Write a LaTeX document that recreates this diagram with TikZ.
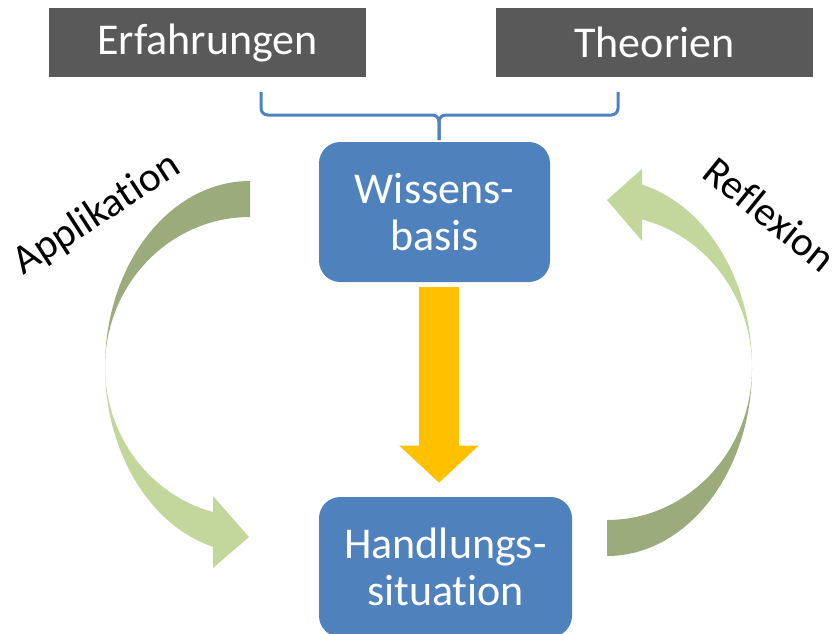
\documentclass[tikz,border=0pt]{standalone}
\usepackage{fontspec}
\setmainfont{Carlito}[Ligatures=NoCommon]
\usetikzlibrary{arrows.meta,calc}
\definecolor{kbgray}{HTML}{595959}
\definecolor{kbblue}{HTML}{4F81BD}
\definecolor{kbyellow}{HTML}{FFC000}
\definecolor{kbdark}{HTML}{9BAB7B}
\definecolor{kblight}{HTML}{C3D69B}

\begin{document}
\begin{tikzpicture}[x=0.75pt, y=-0.75pt,
    graybox/.style={fill=kbgray, text=white, inner sep=0pt,
        minimum width=237.75pt, minimum height=51.75pt},
    bluebox/.style={fill=kbblue, text=white, rounded corners=16pt,
        align=center, inner sep=0pt, minimum height=105pt},
    bigtext/.style={font=\fontsize{33pt}{35.25pt}\selectfont},
    sidetext/.style={font=\fontsize{31pt}{34pt}\selectfont, anchor=base},
    brace/.style={draw=kbblue, line width=2.25pt, rounded corners=5pt},
    flow/.style={draw=kbyellow, line width=30pt,
        -{Triangle[length=27.75pt, width=57.75pt]}}]
        \useasboundingbox (0,0) rectangle (834,633);
        \clip (0,0) rectangle (834,633);

        % ----------------------------------------------------
        % Quellen oben
        % ----------------------------------------------------
        \node[graybox, bigtext] (erfahrung) at (207.5,42.5) {Erfahrungen};
        \node[graybox, bigtext] (theorie) at (654.5,42.5) {Theorien};

        % ----------------------------------------------------
        % Wissensbasis und Handlungssituation
        % ----------------------------------------------------
        \node[bluebox, bigtext, minimum width=173.25pt] (wissen) at (434.5,212) {Wissens-\\basis};
        \node[bluebox, bigtext, minimum width=189.75pt] (handlung) at (445.5,567) {Handlungs-\\situation};

        % Klammer
        \coordinate (braceL) at (261,92);
        \coordinate (braceR) at (618,92);
        \coordinate (braceMid) at (439,115);
        \coordinate (braceTip) at (439,140);
        \draw[brace] (braceL) |- (braceMid) -- (braceTip);
        \draw[brace] (braceR) |- (braceMid) -- (braceTip);

        % Pfeil nach unten
        \draw[flow] ([yshift=-3.75pt]wissen.south -| braceTip) -- ([yshift=10.5pt]handlung.north -| braceTip);

        % ----------------------------------------------------
        % Applikation (links)
        % ----------------------------------------------------
        \fill[kbdark] (250,181) arc[start angle=270, end angle=180, x radius=145, y radius=186]
            arc[start angle=180, end angle=270, x radius=145, y radius=150] -- cycle;
        \fill[kblight] (105,367) arc[start angle=180, end angle=104.8, x radius=145, y radius=186]
            -- (213,568) -- (249,537) -- (213,496) -- (213,512)
            arc[start angle=104.8, end angle=180, x radius=145, y radius=150] -- cycle;
        \node[sidetext, rotate=33] (applik) at (103,224) {Applikation};

        % ----------------------------------------------------
        % Reflexion (rechts)
        % ----------------------------------------------------
        \fill[kbdark] (607,556) arc[start angle=90, end angle=0, x radius=145, y radius=188]
            arc[start angle=0, end angle=90, x radius=145, y radius=152] -- cycle;
        \fill[kblight] (752,367) arc[start angle=360, end angle=284, x radius=145, y radius=188]
            -- (642,169) -- (607,200) -- (642,241) -- (642,219.5)
            arc[start angle=284, end angle=360, x radius=145, y radius=152] -- cycle;
        \node[sidetext, rotate=-39] (reflex) at (761,225) {Reflexion};
    \end{tikzpicture}
\end{document}
